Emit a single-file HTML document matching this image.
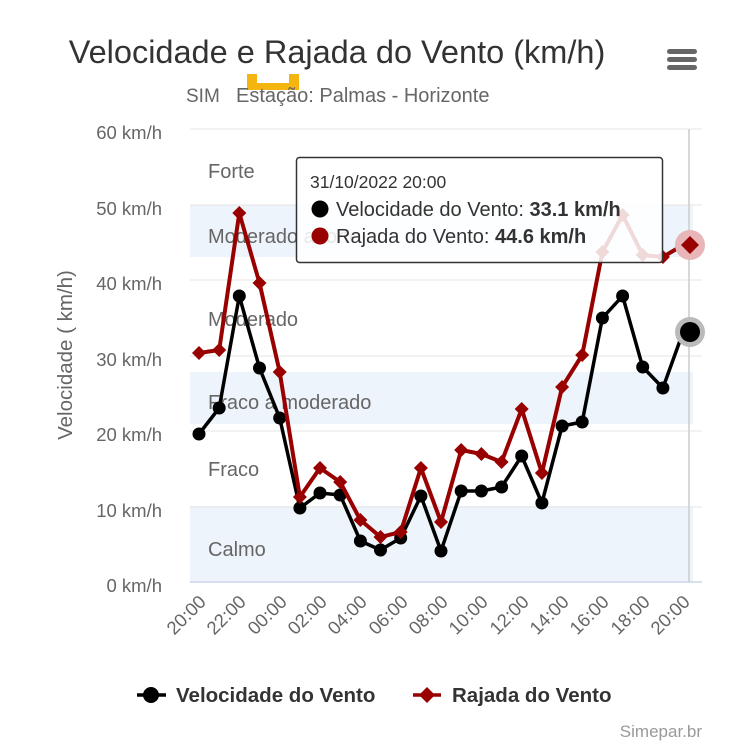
<!DOCTYPE html>
<html><head><meta charset="utf-8"><style>
html,body{margin:0;padding:0;background:#fff;}
svg{display:block;font-family:"Liberation Sans",sans-serif;}
</style></head><body>
<svg width="746" height="750" viewBox="0 0 746 750" xmlns="http://www.w3.org/2000/svg">
<rect width="746" height="750" fill="#fff"/>
<text x="337" y="63" text-anchor="middle" font-size="32.5" fill="#333">Velocidade e Rajada do Vento (km/h)</text>
<g fill="#666"><rect x="667" y="49" width="30" height="5" rx="2.5"/><rect x="667" y="57" width="30" height="5" rx="2.5"/><rect x="667" y="65" width="30" height="5" rx="2.5"/></g>
<rect x="247" y="74" width="52" height="16" fill="#f5b50f"/><rect x="257" y="74" width="32" height="9" fill="#fff"/>
<text x="186" y="102" font-size="19" fill="#666">SIM</text>
<text x="236" y="102" font-size="20" fill="#666">Estação: Palmas - Horizonte</text>
<rect x="190" y="506" width="503" height="76" fill="#edf4fb"/>
<rect x="190" y="372" width="503" height="52" fill="#edf4fb"/>
<rect x="190" y="205" width="503" height="52" fill="#edf4fb"/>
<g stroke="#e6e6e6" stroke-width="1">
<line x1="190" x2="702" y1="129" y2="129"/><line x1="190" x2="702" y1="205" y2="205"/><line x1="190" x2="702" y1="280" y2="280"/><line x1="190" x2="702" y1="356" y2="356"/><line x1="190" x2="702" y1="431" y2="431"/><line x1="190" x2="702" y1="507" y2="507"/>
</g>
<line x1="190" x2="702" y1="582" y2="582" stroke="#ccd6eb" stroke-width="1.5"/>
<line x1="689" x2="689" y1="129" y2="582" stroke="#ccc" stroke-width="1.5"/>
<g font-size="20" fill="#666">
<text x="208" y="178">Forte</text><text x="208" y="243">Moderado a forte</text><text x="208" y="326">Moderado</text><text x="208" y="409">Fraco a moderado</text><text x="208" y="476">Fraco</text><text x="208" y="556">Calmo</text>
</g>
<g font-size="18.5" fill="#666" text-anchor="end">
<text x="162" y="139">60 km/h</text><text x="162" y="215">50 km/h</text><text x="162" y="290">40 km/h</text><text x="162" y="366">30 km/h</text><text x="162" y="441">20 km/h</text><text x="162" y="517">10 km/h</text><text x="162" y="592">0 km/h</text>
</g>
<text transform="translate(72,355) rotate(-90)" text-anchor="middle" font-size="20.5" fill="#666">Velocidade ( km/h)</text>
<g font-size="18.5" fill="#666" text-anchor="end">
<text transform="translate(207,603) rotate(-45)">20:00</text>
<text transform="translate(247,603) rotate(-45)">22:00</text>
<text transform="translate(288,603) rotate(-45)">00:00</text>
<text transform="translate(328,603) rotate(-45)">02:00</text>
<text transform="translate(368,603) rotate(-45)">04:00</text>
<text transform="translate(409,603) rotate(-45)">06:00</text>
<text transform="translate(449,603) rotate(-45)">08:00</text>
<text transform="translate(489,603) rotate(-45)">10:00</text>
<text transform="translate(530,603) rotate(-45)">12:00</text>
<text transform="translate(570,603) rotate(-45)">14:00</text>
<text transform="translate(610,603) rotate(-45)">16:00</text>
<text transform="translate(651,603) rotate(-45)">18:00</text>
<text transform="translate(691,603) rotate(-45)">20:00</text>
</g>
<polyline fill="none" stroke="#000" stroke-width="3.5" stroke-linejoin="round" points="199,434 219.2,408 239.3,296 259.5,368 279.7,418 299.9,508 320,493 340.2,495 360.4,541 380.5,550 400.7,538 420.9,496 441,551 461.2,491 481.4,491 501.6,487 521.7,456 541.9,503 562.1,426 582.2,422 602.4,318 622.6,296 642.7,367 662.9,388 683.1,332"/>
<g fill="#000">
<circle cx="199" cy="434" r="6.5"/><circle cx="219.2" cy="408" r="6.5"/><circle cx="239.3" cy="296" r="6.5"/><circle cx="259.5" cy="368" r="6.5"/><circle cx="279.7" cy="418" r="6.5"/><circle cx="299.9" cy="508" r="6.5"/><circle cx="320" cy="493" r="6.5"/><circle cx="340.2" cy="495" r="6.5"/><circle cx="360.4" cy="541" r="6.5"/><circle cx="380.5" cy="550" r="6.5"/><circle cx="400.7" cy="538" r="6.5"/><circle cx="420.9" cy="496" r="6.5"/><circle cx="441" cy="551" r="6.5"/><circle cx="461.2" cy="491" r="6.5"/><circle cx="481.4" cy="491" r="6.5"/><circle cx="501.6" cy="487" r="6.5"/><circle cx="521.7" cy="456" r="6.5"/><circle cx="541.9" cy="503" r="6.5"/><circle cx="562.1" cy="426" r="6.5"/><circle cx="582.2" cy="422" r="6.5"/><circle cx="602.4" cy="318" r="6.5"/><circle cx="622.6" cy="296" r="6.5"/><circle cx="642.7" cy="367" r="6.5"/><circle cx="662.9" cy="388" r="6.5"/>
<circle cx="690" cy="332" r="15" fill="#bbb"/><circle cx="690" cy="332" r="10"/>
</g>
<polyline fill="none" stroke="#990000" stroke-width="4" stroke-linejoin="round" points="199,353 219.2,350 239.3,213 259.5,283 279.7,372 299.9,497 320,468 340.2,482 360.4,520 380.5,537 400.7,532 420.9,468 441,522 461.2,450 481.4,454 501.6,462 521.7,409 541.9,473 562.1,387 582.2,355 602.4,252 622.6,215 642.7,255 662.9,257 683.1,245"/>
<g fill="#990000">
<path d="M199,346l7,7-7,7-7-7z"/><path d="M219.2,343l7,7-7,7-7-7z"/><path d="M239.3,206l7,7-7,7-7-7z"/><path d="M259.5,276l7,7-7,7-7-7z"/><path d="M279.7,365l7,7-7,7-7-7z"/><path d="M299.9,490l7,7-7,7-7-7z"/><path d="M320,461l7,7-7,7-7-7z"/><path d="M340.2,475l7,7-7,7-7-7z"/><path d="M360.4,513l7,7-7,7-7-7z"/><path d="M380.5,530l7,7-7,7-7-7z"/><path d="M400.7,525l7,7-7,7-7-7z"/><path d="M420.9,461l7,7-7,7-7-7z"/><path d="M441,515l7,7-7,7-7-7z"/><path d="M461.2,443l7,7-7,7-7-7z"/><path d="M481.4,447l7,7-7,7-7-7z"/><path d="M501.6,455l7,7-7,7-7-7z"/><path d="M521.7,402l7,7-7,7-7-7z"/><path d="M541.9,466l7,7-7,7-7-7z"/><path d="M562.1,380l7,7-7,7-7-7z"/><path d="M582.2,348l7,7-7,7-7-7z"/><path d="M602.4,245l7,7-7,7-7-7z"/><path d="M622.6,208l7,7-7,7-7-7z"/><path d="M642.7,248l7,7-7,7-7-7z"/><path d="M662.9,250l7,7-7,7-7-7z"/>
<circle cx="690" cy="245" r="15" fill="#e8b5b8"/><path d="M690,236l9,9-9,9-9-9z"/>
</g>
<rect x="296.5" y="157.5" width="366" height="105" rx="3" fill="#fff" fill-opacity="0.85" stroke="#333" stroke-width="1.5"/>
<text x="310" y="188" font-size="17.5" fill="#333">31/10/2022 20:00</text>
<circle cx="320" cy="209" r="8.5" fill="#000"/>
<text x="336" y="216" font-size="20" fill="#333">Velocidade do Vento: <tspan font-weight="bold">33.1 km/h</tspan></text>
<circle cx="320" cy="236" r="8.5" fill="#990000"/>
<text x="336" y="243" font-size="20" fill="#333">Rajada do Vento: <tspan font-weight="bold">44.6 km/h</tspan></text>
<line x1="137" x2="166" y1="695" y2="695" stroke="#000" stroke-width="3.5"/><circle cx="151" cy="695" r="8" fill="#000"/>
<text x="176" y="702" font-size="20.5" font-weight="bold" fill="#333">Velocidade do Vento</text>
<line x1="413" x2="441" y1="695" y2="695" stroke="#990000" stroke-width="3.5"/><path d="M427,687l8,8-8,8-8-8z" fill="#990000"/>
<text x="452" y="702" font-size="20.5" font-weight="bold" fill="#333">Rajada do Vento</text>
<text x="702" y="737" text-anchor="end" font-size="17" fill="#999">Simepar.br</text>
</svg>
</body></html>
